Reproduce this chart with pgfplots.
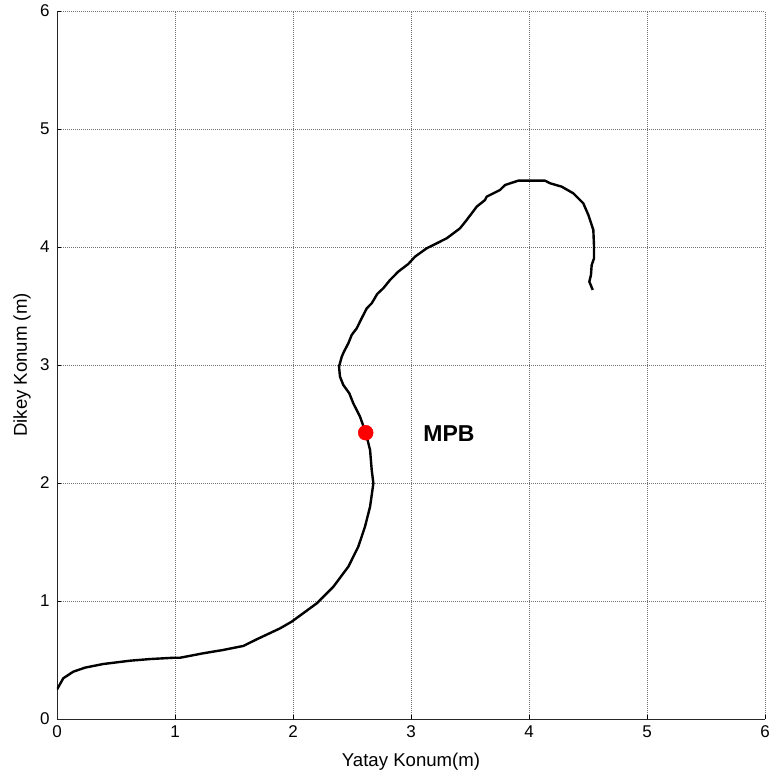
\documentclass[border=0pt]{standalone}
\usepackage{fontspec}
\setmainfont{Liberation Sans}
\usepackage{pgfplots}
\pgfplotsset{compat=1.18}
\begin{document}
\begin{tikzpicture}
\begin{axis}[
  scale only axis, width=708pt, height=708pt,
  xmin=0, xmax=6, ymin=0, ymax=6,
  xtick={0,1,2,3,4,5,6}, ytick={0,1,2,3,4,5,6},
  axis x line*=bottom, axis y line*=left,
  axis line style={black!85, line width=0.9pt},
  tick align=inside, major tick length=4pt,
  tick style={black, line width=0.9pt},
  grid=major,
  grid style={black!55, line width=0.6pt, dash pattern=on 1pt off 1pt},
  /pgf/number format/assume math mode=true,
  tick label style={font=\fontsize{17}{20}\selectfont},
  xticklabel style={yshift=-3pt},
  yticklabel style={xshift=-4pt},
  label style={font=\fontsize{18.6}{22}\selectfont},
  xlabel={Yatay Konum(m)}, ylabel={Dikey Konum (m)},
  xlabel style={at={(axis description cs:0.5,-0.0664)}, anchor=base},
  ylabel style={at={(axis description cs:-0.0424,0.5)}, anchor=base},
]
\addplot[black, line width=2.4pt, line join=round] coordinates {
(0,0.25) (0.053,0.345) (0.138,0.401) (0.237,0.435) (0.392,0.466) (0.619,0.494)
(0.788,0.508) (0.986,0.519) (1.042,0.519) (1.240,0.557) (1.409,0.585) (1.579,0.619)
(1.692,0.675) (1.890,0.768) (1.989,0.825) (2.201,0.980) (2.342,1.121) (2.469,1.291)
(2.553,1.460) (2.610,1.630) (2.653,1.799) (2.681,1.997) (2.667,2.110) (2.653,2.280)
(2.616,2.426) (2.568,2.562) (2.511,2.675) (2.477,2.760) (2.426,2.831) (2.398,2.901)
(2.390,2.986) (2.413,3.070) (2.432,3.113) (2.469,3.184) (2.497,3.254) (2.540,3.311)
(2.582,3.396) (2.625,3.480) (2.667,3.523) (2.714,3.602) (2.765,3.650) (2.822,3.720)
(2.892,3.791) (2.977,3.856) (3.034,3.918) (3.133,3.989) (3.218,4.031) (3.303,4.074)
(3.415,4.158) (3.472,4.229) (3.557,4.342) (3.627,4.398) (3.641,4.426) (3.754,4.483)
(3.797,4.525) (3.909,4.562) (4.136,4.562) (4.178,4.540) (4.277,4.511) (4.375,4.455)
(4.460,4.370) (4.503,4.271) (4.545,4.144) (4.551,4.003) (4.551,3.904) (4.531,3.847)
(4.525,3.763) (4.511,3.706) (4.540,3.636)
};
\addplot[only marks, mark=*, mark size=7.5pt, color=red, fill=red] coordinates {(2.616,2.426)};
\node[anchor=west, inner sep=0pt, font=\bfseries\fontsize{23}{27}\selectfont] at (axis cs:3.104,2.421) {MPB};
\coordinate (bl) at (axis cs:-0.483,-0.4915);
\coordinate (tr) at (axis cs:6.034,6.093);
\end{axis}
\pgfresetboundingbox
\useasboundingbox (bl) rectangle (tr);
\end{tikzpicture}
\end{document}
